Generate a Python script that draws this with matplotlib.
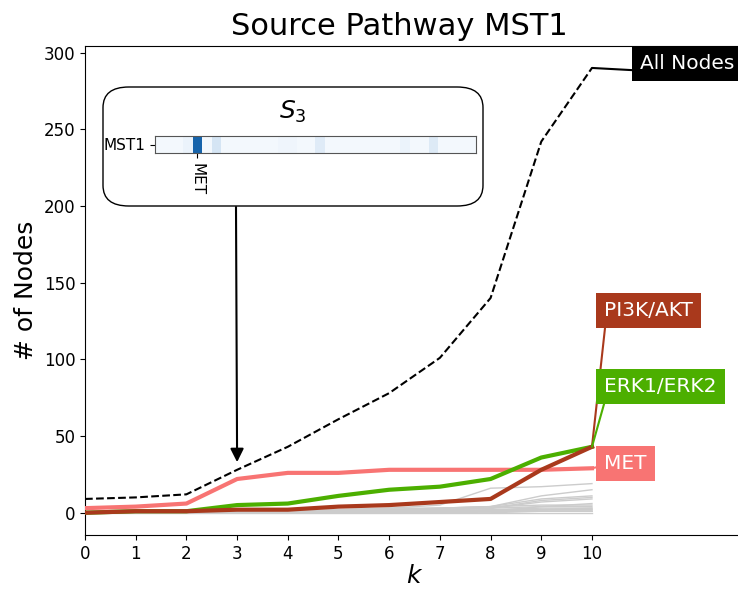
import matplotlib.pyplot as plt
import numpy as np
from matplotlib.patches import FancyBboxPatch

# data
k = list(range(11))
all_nodes = [9, 10, 12, 28, 43, 61, 78, 101, 140, 242, 290]
met = [3, 4, 6, 22, 26, 26, 28, 28, 28, 28, 29]
erk = [0, 1, 1, 5, 6, 11, 15, 17, 22, 36, 43]
pi3k = [0, 1, 1, 2, 2, 4, 5, 7, 9, 28, 43]

other_pathways = [
    [0, 0, 0, 1, 1, 2, 3, 5, 16, 17, 19],
    [0, 0, 0, 1, 1, 1, 2, 3, 4, 11, 15],
    [0, 0, 0, 0, 1, 1, 2, 3, 4, 9, 11],
    [0, 0, 0, 0, 0, 1, 1, 2, 3, 8, 10],
    [0, 0, 0, 0, 1, 1, 2, 2, 3, 7, 9],
    [0, 0, 0, 1, 1, 2, 3, 3, 4, 5, 5],
    [0, 0, 0, 0, 1, 1, 1, 2, 3, 4, 4],
    [0, 0, 0, 0, 0, 1, 1, 1, 2, 3, 3],
    [0, 0, 0, 0, 0, 0, 1, 1, 1, 2, 2],
    [0, 0, 0, 0, 0, 0, 0, 1, 1, 1, 1],
    [0, 0, 0, 0, 0, 0, 0, 0, 1, 2, 3],
    [0, 0, 0, 0, 0, 0, 1, 1, 2, 2, 2],
    [0, 0, 0, 0, 0, 0, 0, 0, 0, 1, 1],
    [0, 0, 0, 0, 0, 0, 0, 0, 0, 0, 0],
    [0, 0, 1, 1, 1, 1, 1, 1, 1, 1, 1],
    [0, 0, 0, 0, 0, 1, 1, 1, 1, 4, 6],
]

# S_3 row for MST1 (34 target pathways)
s3_row = [0.02] * 34
s3_row[3] = 0.06
s3_row[4] = 0.8
s3_row[6] = 0.17
s3_row[13] = 0.04
s3_row[14] = 0.04
s3_row[17] = 0.12
s3_row[26] = 0.06
s3_row[29] = 0.13
s3_xtick = (4, 'MET')
s3_ytick = 'MST1'

c_met = '#f87473'
c_erk = '#4caf00'
c_pi3k = '#a9391c'

fig = plt.figure(figsize=(7.38, 5.89), dpi=100)
ax = fig.add_axes([0.1152, 0.0917, 0.893, 0.8307])

for row in other_pathways:
    ax.plot(k, row, color='#cccccc', lw=1, zorder=1)
ax.plot(k, all_nodes, '--', color='black', lw=1.5, zorder=3)
ax.plot(k, met, color=c_met, lw=3, zorder=3)
ax.plot(k, erk, color=c_erk, lw=3, zorder=3)
ax.plot(k, pi3k, color=c_pi3k, lw=3, zorder=3)

ax.set_xlim(0, 13)
ax.set_ylim(-14.5, 304.5)
ax.set_xticks(k)
ax.tick_params(labelsize=12)
ax.set_xlabel('$k$', fontsize=18, labelpad=1)
ax.set_ylabel('# of Nodes', fontsize=18)
fig.text(0.5405, 0.955, 'Source Pathway MST1', fontsize=22, ha='center', va='center')

def label(text, y_end, xt, yt, color, rel):
    ax.annotate(text, xy=(10, y_end), xytext=(xt, yt), fontsize=14.5, color='white',
                ha='left', va='center', zorder=5, annotation_clip=False,
                bbox=dict(boxstyle='square,pad=0.4', fc=color, ec='none'),
                arrowprops=dict(arrowstyle='-', color=color, lw=1.5, relpos=rel,
                                shrinkA=0, shrinkB=0))

label('All Nodes', 290, 10.95, 293, 'black', (0, 0.12))
label('PI3K/AKT', 43, 10.24, 132, c_pi3k, (0.02, 0))
label('ERK1/ERK2', 43, 10.24, 82.5, c_erk, (0.02, 0))
label('MET', 29, 10.24, 32, c_met, (0, 0.4))

# inset box with S_3 heatmap
box = FancyBboxPatch((103 / 738, 1 - 206 / 589), 380 / 738, 119 / 589,
                     boxstyle='round,pad=0,rounding_size=0.035',
                     transform=fig.transFigure, fc='white', ec='black', lw=1, zorder=10)
fig.patches.append(box)
fig.text(293 / 738, 1 - 112 / 589, '$S_3$', fontsize=18, ha='center', va='center', zorder=11)

hax = fig.add_axes([155 / 738, 1 - 153 / 589, 321 / 738, 17 / 589], zorder=11)
hax.imshow(np.array([s3_row]), cmap='Blues', vmin=0, vmax=1, aspect='auto')
hax.set_yticks([0])
hax.set_yticklabels([s3_ytick], fontsize=11)
hax.set_xticks([s3_xtick[0]])
hax.set_xticklabels([s3_xtick[1]], fontsize=11, rotation=270)
for s in hax.spines.values():
    s.set_color('#555555')

ax.annotate('', xy=(3, 33), xycoords='data',
            xytext=(236 / 738, 1 - 207 / 589), textcoords='figure fraction',
            arrowprops=dict(arrowstyle='-|>', color='black', lw=1.5, mutation_scale=20,
                            shrinkA=0, shrinkB=0), zorder=4)

fig.savefig('out.png', dpi=100)
